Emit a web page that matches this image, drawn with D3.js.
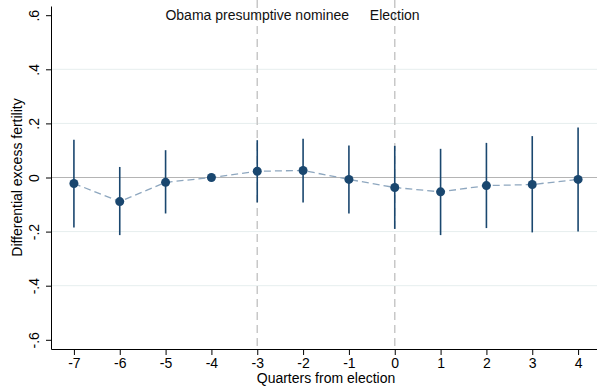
<!DOCTYPE html>
<html>
<head>
<meta charset="utf-8">
<script src="https://cdn.jsdelivr.net/npm/d3@7"></script>
<style>
  body { margin: 0; background: #fff; }
  svg { display: block; font-family: "Liberation Sans", Arial, sans-serif; }
</style>
</head>
<body>
<div id="chart"></div>
<script>
// Quarters from election, point estimates and 95% CI bounds
const quarters = [-7, -6, -5, -4, -3, -2, -1, 0, 1, 2, 3, 4];
const estimates = [-0.022, -0.089, -0.018, 0.0, 0.023, 0.026, -0.007, -0.037, -0.053, -0.030, -0.026, -0.007];
const ciLow = [-0.185, -0.213, -0.133, null, -0.092, -0.092, -0.133, -0.190, -0.213, -0.187, -0.203, -0.200];
const ciHigh = [0.140, 0.039, 0.101, null, 0.138, 0.143, 0.118, 0.117, 0.106, 0.128, 0.153, 0.185];

const yTicks = [0.6, 0.4, 0.2, 0, -0.2, -0.4, -0.6];
const yTickLabels = [".6", ".4", ".2", "0", "-.2", "-.4", "-.6"];
const events = [{ q: -3, label: "Obama presumptive nominee" }, { q: 0, label: "Election" }];

const W = 597, H = 387;
const margin = { top: 6, right: -4, bottom: 38, left: 51 };
const navy = "#1a476f";

const svg = d3.select("#chart").append("svg")
  .attr("width", W)
  .attr("height", H);

const x = d3.scaleLinear().domain([-7.5, 4.5]).range([margin.left, W - margin.right]);
const y = d3.scaleLinear().domain([-0.634, 0.634]).range([H - margin.bottom, margin.top]);

const data = quarters.map((q, i) => ({ q, est: estimates[i], lo: ciLow[i], hi: ciHigh[i] }));

// gridlines (Stata skips the outer ones)
svg.append("g")
  .selectAll("line")
  .data(yTicks.filter(t => Math.abs(t) < 0.5))
  .join("line")
  .attr("x1", margin.left)
  .attr("x2", W)
  .attr("y1", d => y(d))
  .attr("y2", d => y(d))
  .attr("stroke", d => d === 0 ? "#b4b4b4" : "#e6eeee")
  .attr("stroke-width", d => d === 0 ? 1.2 : 1);

// event lines
svg.append("g")
  .selectAll("line")
  .data(events)
  .join("line")
  .attr("x1", d => x(d.q))
  .attr("x2", d => x(d.q))
  .attr("y1", margin.top - 6)
  .attr("y2", H - margin.bottom)
  .attr("stroke", "#c8c8c8")
  .attr("stroke-width", 1.5)
  .attr("stroke-dasharray", "8,5");

svg.append("g")
  .selectAll("text")
  .data(events)
  .join("text")
  .attr("x", d => x(d.q))
  .attr("y", 20)
  .attr("text-anchor", "middle")
  .style("font-size", "14px")
  .attr("fill", "#111")
  .text(d => d.label);

// connecting dashed line
svg.append("path")
  .datum(data)
  .attr("fill", "none")
  .attr("stroke", "#8ea7bf")
  .attr("stroke-width", 1.3)
  .attr("stroke-dasharray", "7,4")
  .attr("d", d3.line().x(d => x(d.q)).y(d => y(d.est)));

// confidence intervals
svg.append("g")
  .selectAll("line")
  .data(data.filter(d => d.lo !== null))
  .join("line")
  .attr("x1", d => x(d.q))
  .attr("x2", d => x(d.q))
  .attr("y1", d => y(d.lo))
  .attr("y2", d => y(d.hi))
  .attr("stroke", navy)
  .attr("stroke-width", 1.6);

// points
svg.append("g")
  .selectAll("circle")
  .data(data)
  .join("circle")
  .attr("cx", d => x(d.q))
  .attr("cy", d => y(d.est))
  .attr("r", 4.5)
  .attr("fill", navy);

// x axis
const xAxis = svg.append("g")
  .attr("transform", `translate(0,${H - margin.bottom})`)
  .call(d3.axisBottom(x).tickValues(quarters).tickFormat(d => String(d)).tickSize(6).tickSizeOuter(0));
xAxis.select(".domain").attr("stroke", "#000");
xAxis.selectAll(".tick line").attr("stroke", "#000");
xAxis.selectAll(".tick text")
  .attr("y", 9)
  .style("font-size", "14px")
  .style("font-family", "Liberation Sans, Arial, sans-serif")
  .attr("fill", "#000");

// y axis
const yAxis = svg.append("g")
  .attr("transform", `translate(${margin.left},0)`)
  .call(d3.axisLeft(y).tickValues(yTicks).tickFormat((d, i) => yTickLabels[i]).tickSize(5).tickSizeOuter(0));
yAxis.select(".domain").attr("stroke", "#000");
yAxis.selectAll(".tick line").attr("stroke", "#000");
yAxis.selectAll(".tick text")
  .attr("x", null)
  .attr("dy", null)
  .attr("text-anchor", "middle")
  .attr("transform", "translate(-12.5,0) rotate(-90)")
  .style("font-size", "14px")
  .style("font-family", "Liberation Sans, Arial, sans-serif")
  .attr("fill", "#000");

// axis titles
svg.append("text")
  .attr("x", x(-1.5))
  .attr("y", 383)
  .attr("text-anchor", "middle")
  .style("font-size", "14px")
  .text("Quarters from election");

svg.append("text")
  .attr("transform", `translate(22,${y(0)}) rotate(-90)`)
  .attr("text-anchor", "middle")
  .style("font-size", "14px")
  .text("Differential excess fertility");
</script>
</body>
</html>
